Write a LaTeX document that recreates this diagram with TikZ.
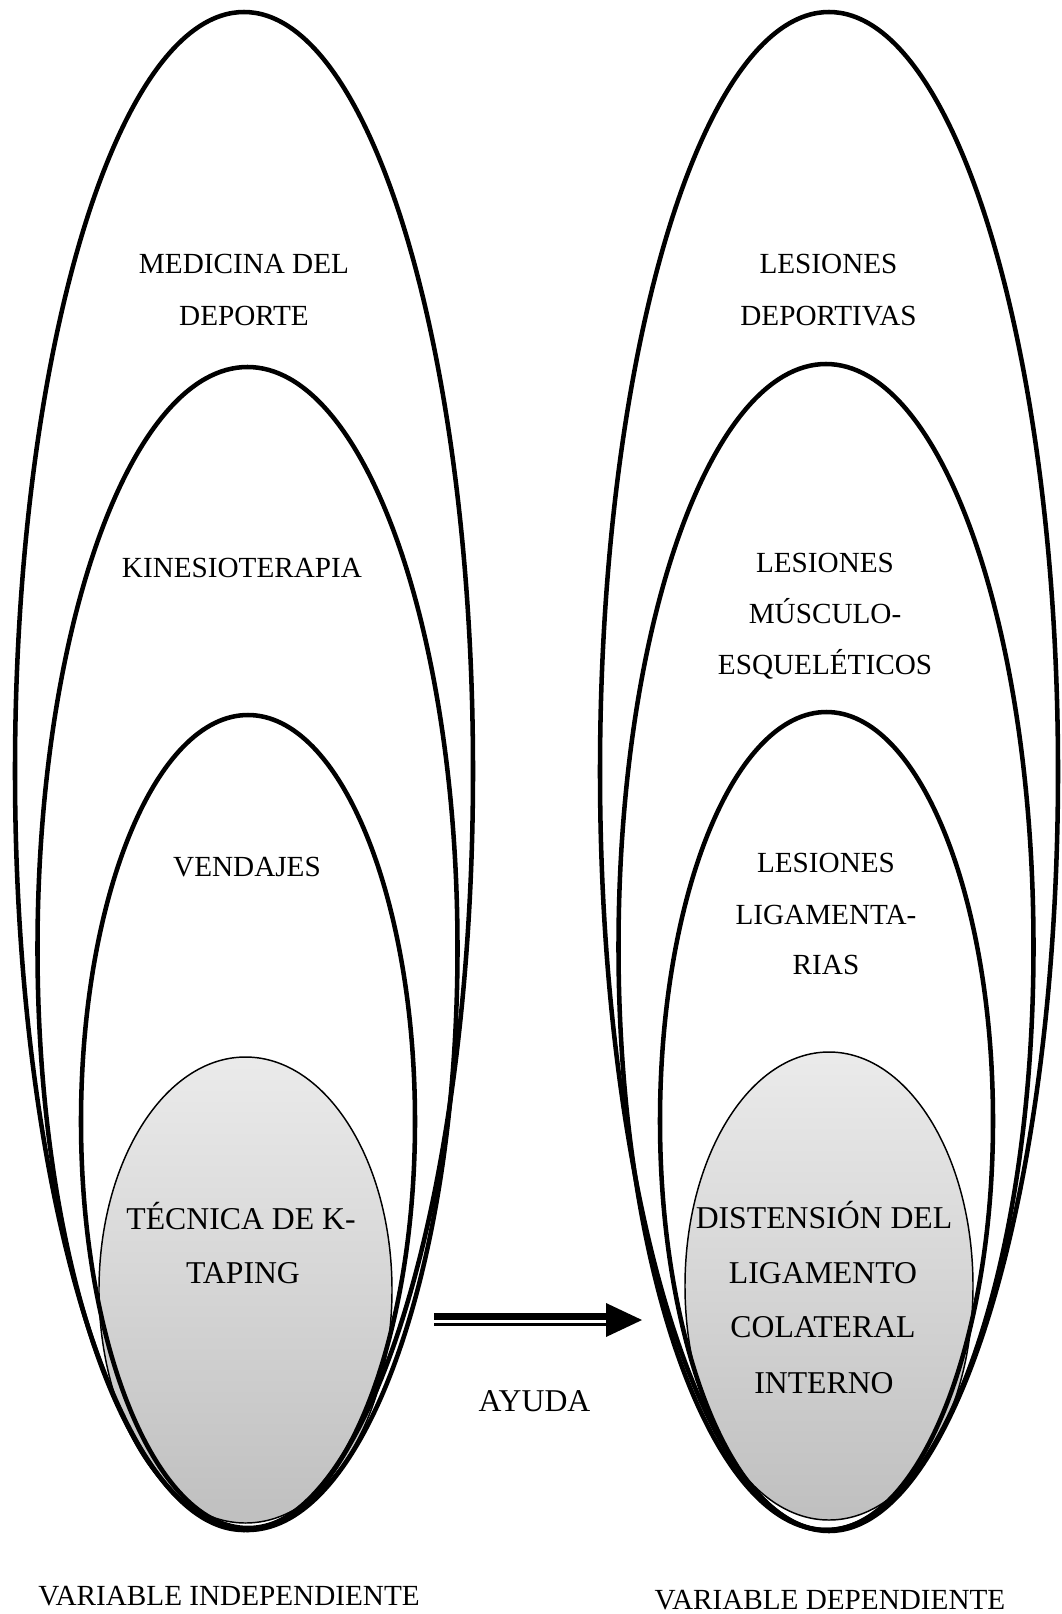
\documentclass[tikz,border=0pt]{standalone}
\usepackage{fontspec}
\setmainfont{Liberation Serif}
\usetikzlibrary{shapes.geometric}

\begin{document}
\begin{tikzpicture}[x=0.75pt, y=-0.75pt,
  oval/.style={ellipse, draw, line width=3.4pt, inner sep=0pt},
  core/.style={ellipse, draw, line width=1.1pt, inner sep=0pt,
               top color=gray!16, bottom color=gray!50},
  lbl/.style={font=\fontsize{21.9}{26}\selectfont, anchor=base, inner sep=0pt},
  biglbl/.style={lbl, font=\fontsize{23.8}{28}\selectfont}]

\useasboundingbox (0,0) rectangle (1061,1614);

% ---------- left column: independent variable ----------
\node[core, minimum width=219.75pt, minimum height=349.5pt] (L4) at (245.5,1290) {};
\node[oval, minimum width=343.5pt,  minimum height=1138.5pt] (L1) at (244,771) {};
\node[oval, minimum width=315pt,    minimum height=872.25pt] (L2) at (247.5,948.5) {};
\node[oval, minimum width=250.5pt,  minimum height=609.75pt] (L3) at (248,1121.5) {};

\node[lbl] (l1a) at (244,273) {MEDICINA DEL};
\node[lbl] (l1b) at (244,325) {DEPORTE};
\node[lbl] (l2a) at (242,577) {KINESIOTERAPIA};
\node[lbl] (l3a) at (247,876) {VENDAJES};
\node[biglbl] (l4a) at (241,1229) {TÉCNICA DE K-};
\node[biglbl] (l4b) at (243,1283) {TAPING};

% ---------- right column: dependent variable ----------
\node[core, minimum width=216pt,    minimum height=351pt]     (R4) at (829,1286) {};
\node[oval, minimum width=343.5pt,  minimum height=1139.25pt] (R1) at (829,771.5) {};
\node[oval, minimum width=311.25pt, minimum height=874.5pt]   (R2) at (826,947) {};
\node[oval, minimum width=249.75pt, minimum height=613.5pt]   (R3) at (826.5,1121) {};

\node[lbl] (r1a) at (828.5,273) {LESIONES};
\node[lbl] (r1b) at (828.5,325) {DEPORTIVAS};
\node[lbl] (r2a) at (825,572) {LESIONES};
\node[lbl] (r2b) at (825,623) {MÚSCULO-};
\node[lbl] (r2c) at (825,674) {ESQUELÉTICOS};
\node[lbl] (r3a) at (826,872) {LESIONES};
\node[lbl] (r3b) at (826,924) {LIGAMENTA-};
\node[lbl] (r3c) at (826,974) {RIAS};
\node[biglbl] (r4a) at (824,1228) {DISTENSIÓN DEL};
\node[biglbl] (r4b) at (823,1283) {LIGAMENTO};
\node[biglbl] (r4c) at (823,1337) {COLATERAL};
\node[biglbl] (r4d) at (824,1393) {INTERNO};

% ---------- thick-thin arrow between the columns ----------
\coordinate (arrS) at (434,1320);
\coordinate (arrE) at (642,1320);
\draw[line width=4.9pt]  ([yshift=2.6pt]arrS)  -- ([xshift=-27pt,yshift=2.6pt]arrE);
\draw[line width=2.25pt] ([yshift=-3.4pt]arrS) -- ([xshift=-27pt,yshift=-3.4pt]arrE);
\fill ([xshift=-27pt,yshift=12.75pt]arrE) -- (arrE) -- ([xshift=-27pt,yshift=-12.75pt]arrE) -- cycle;
\node[biglbl] (ayuda) at (534.5,1411) {AYUDA};

% ---------- captions ----------
\node[lbl] (capL) at (229,1605) {VARIABLE INDEPENDIENTE};
\node[lbl] (capR) at (830,1609) {VARIABLE DEPENDIENTE};

\end{tikzpicture}
\end{document}
